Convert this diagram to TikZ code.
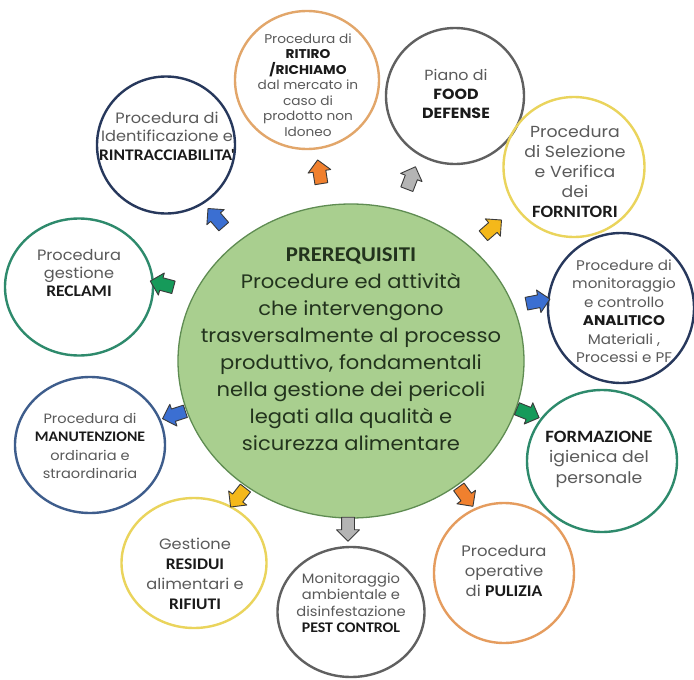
\documentclass[tikz,border=0pt]{standalone}
\usepackage{fontspec}
\setmainfont{Poppins}[FakeStretch=1.08]
\newfontfamily\capsfont{Carlito}[FakeStretch=1.08,Scale=1.08]
\usetikzlibrary{shapes.geometric,shapes.arrows}

\definecolor{corefill}{HTML}{A9CF8F}
\definecolor{coreline}{HTML}{5F8C52}
\definecolor{coretext}{HTML}{22331D}
\definecolor{satgray}{HTML}{5A5A5A}
\definecolor{ink}{HTML}{1A1A1A}
\definecolor{rimtan}{HTML}{E2A66A}
\definecolor{rimorange}{HTML}{E59C5E}
\definecolor{rimgray}{HTML}{606060}
\definecolor{rimyellow}{HTML}{EAD45C}
\definecolor{rimnavy}{HTML}{27385C}
\definecolor{rimslate}{HTML}{3E5D8C}
\definecolor{rimteal}{HTML}{2E8A6C}
\definecolor{aorange}{HTML}{F0802E}
\definecolor{agray}{HTML}{B4B4B4}
\definecolor{ablue}{HTML}{3B6FD2}
\definecolor{agreen}{HTML}{169A5A}
\definecolor{ayellow}{HTML}{F4B81A}
\definecolor{aline}{HTML}{3A3A3A}

\newcommand{\kw}[1]{{\capsfont\bfseries\color{ink}#1}}
\newcommand{\kg}[1]{{\bfseries\color{ink}#1}}

\tikzset{
  sat/.style={ellipse, draw, line width=2.4pt, minimum width=144pt,
    minimum height=138pt, inner sep=0pt},
  sattext/.style={align=center, text=satgray, inner sep=0pt},
  pointer/.style={single arrow, draw=aline, line width=0.9pt,
    minimum height=24pt, inner xsep=0pt, inner ysep=6pt,
    single arrow head extend=5pt, line join=round},
}

\begin{document}
\begin{tikzpicture}[x=1pt,y=-1pt]
\useasboundingbox (0,0) rectangle (694,680);
\fill[white] (0,0) rectangle (694,680);

% central block
\node[ellipse, fill=corefill, draw=coreline, line width=1.3pt,
  minimum width=346pt, minimum height=314pt, inner sep=0pt] (core) at (351,361) {};
\node[align=center, text=coretext, inner sep=0pt,
  font={\fontsize{19.5}{27}\selectfont}] (coretxt) at (351,349)
  {{\capsfont\bfseries\fontsize{19.5}{27}\selectfont PREREQUISITI}\\
   Procedure ed attività\\
   che intervengono\\
   trasversalmente al processo\\
   produttivo, fondamentali\\
   nella gestione dei pericoli\\
   legati alla qualità e\\
   sicurezza alimentare};

% surrounding procedures
\node[sat, draw=rimtan] (ritiro) at (307,80) {};
\node[sattext, font={\fontsize{12.7}{15.5}\selectfont}] (tritiro) at (308,85)
  {Procedura di\\ \kg{RITIRO}\\ \kg{/RICHIAMO}\\ dal mercato in\\ caso di\\ prodotto non\\ Idoneo};

\node[sat, draw=rimgray, minimum width=138pt, minimum height=136pt] (food) at (455,96) {};
\node[sattext, font={\fontsize{14.7}{19}\selectfont}] (tfood) at (456,94)
  {Piano di\\ \kg{FOOD}\\ \kg{DEFENSE}};

\node[sat, draw=rimyellow, minimum width=141pt, minimum height=140pt] (forn) at (574,167) {};
\node[sattext, font={\fontsize{16}{20}\selectfont}] (tforn) at (575,172)
  {Procedura\\ di Selezione\\ e Verifica\\ dei\\ \kw{FORNITORI}};

\node[sat, draw=rimnavy, minimum width=146pt, minimum height=150pt] (anal) at (621,308) {};
\node[sattext, font={\fontsize{14}{18.5}\selectfont}] (tanal) at (624,311)
  {Procedure di\\ monitoraggio\\ e controllo\\ \kg{ANALITICO}\\ Materiali ,\\ Processi e PF};

\node[sat, draw=rimteal, minimum width=150pt, minimum height=142pt] (form) at (602,461) {};
\node[sattext, font={\fontsize{16}{20.5}\selectfont}] (tform) at (599,459)
  {\kw{FORMAZIONE}\\ igienica del\\ personale};

\node[sat, draw=rimorange, minimum width=140pt, minimum height=140pt] (puli) at (504,573) {};
\node[sattext, font={\fontsize{15.2}{20}\selectfont}] (tpuli) at (504,571)
  {Procedura\\ operative\\ di \kw{PULIZIA}};

\node[sat, draw=rimgray, minimum width=147pt, minimum height=130pt] (pest) at (351,612) {};
\node[sattext, font={\fontsize{13.6}{16.5}\selectfont}] (tpest) at (351,603)
  {Monitoraggio\\ ambientale e\\ disinfestazione\\ \kw{PEST CONTROL}};

\node[sat, draw=rimyellow, minimum width=145pt, minimum height=130pt] (resi) at (194,563) {};
\node[sattext, font={\fontsize{15}{20}\selectfont}] (tresi) at (195,574)
  {Gestione\\ \kw{RESIDUI}\\ alimentari e\\ \kw{RIFIUTI}};

\node[sat, draw=rimslate, minimum width=150pt, minimum height=136pt] (manu) at (90,445) {};
\node[sattext, font={\fontsize{13.5}{18.5}\selectfont}] (tmanu) at (90,446)
  {Procedura di\\ \kw{MANUTENZIONE}\\ ordinaria e\\ straordinaria};

\node[sat, draw=rimteal, minimum width=148pt, minimum height=137pt] (recl) at (79,287) {};
\node[sattext, font={\fontsize{15}{18}\selectfont}] (trecl) at (79,273)
  {Procedura\\ gestione\\ \kw{RECLAMI}};

\node[sat, draw=rimnavy, minimum width=138pt, minimum height=137pt] (rintr) at (166,145) {};
\node[sattext, font={\fontsize{15}{18.5}\selectfont}] (trintr) at (167,136)
  {Procedura di\\ Identificazione e\\ \kw{RINTRACCIABILITA'}};

% outward pointers from the central block
\node[pointer, fill=aorange, rotate=99]  (p1)  at (320,175) {};
\node[pointer, fill=agray,   rotate=69]  (p2)  at (410,181) {};
\node[pointer, fill=ayellow, rotate=41]  (p3)  at (490,230) {};
\node[pointer, fill=ablue,   rotate=11]  (p4)  at (535,302) {};
\node[pointer, fill=agreen,  rotate=-22] (p5)  at (525,412) {};
\node[pointer, fill=aorange, rotate=-54] (p6)  at (464,494) {};
\node[pointer, fill=agray,   rotate=-90] (p7)  at (348,526) {};
\node[pointer, fill=ayellow, rotate=232] (p8)  at (240,495) {};
\node[pointer, fill=ablue,   rotate=198] (p9)  at (177,414) {};
\node[pointer, fill=agreen,  rotate=165] (p10) at (165,285) {};
\node[pointer, fill=ablue,   rotate=131] (p11) at (218,220) {};
\end{tikzpicture}
\end{document}
